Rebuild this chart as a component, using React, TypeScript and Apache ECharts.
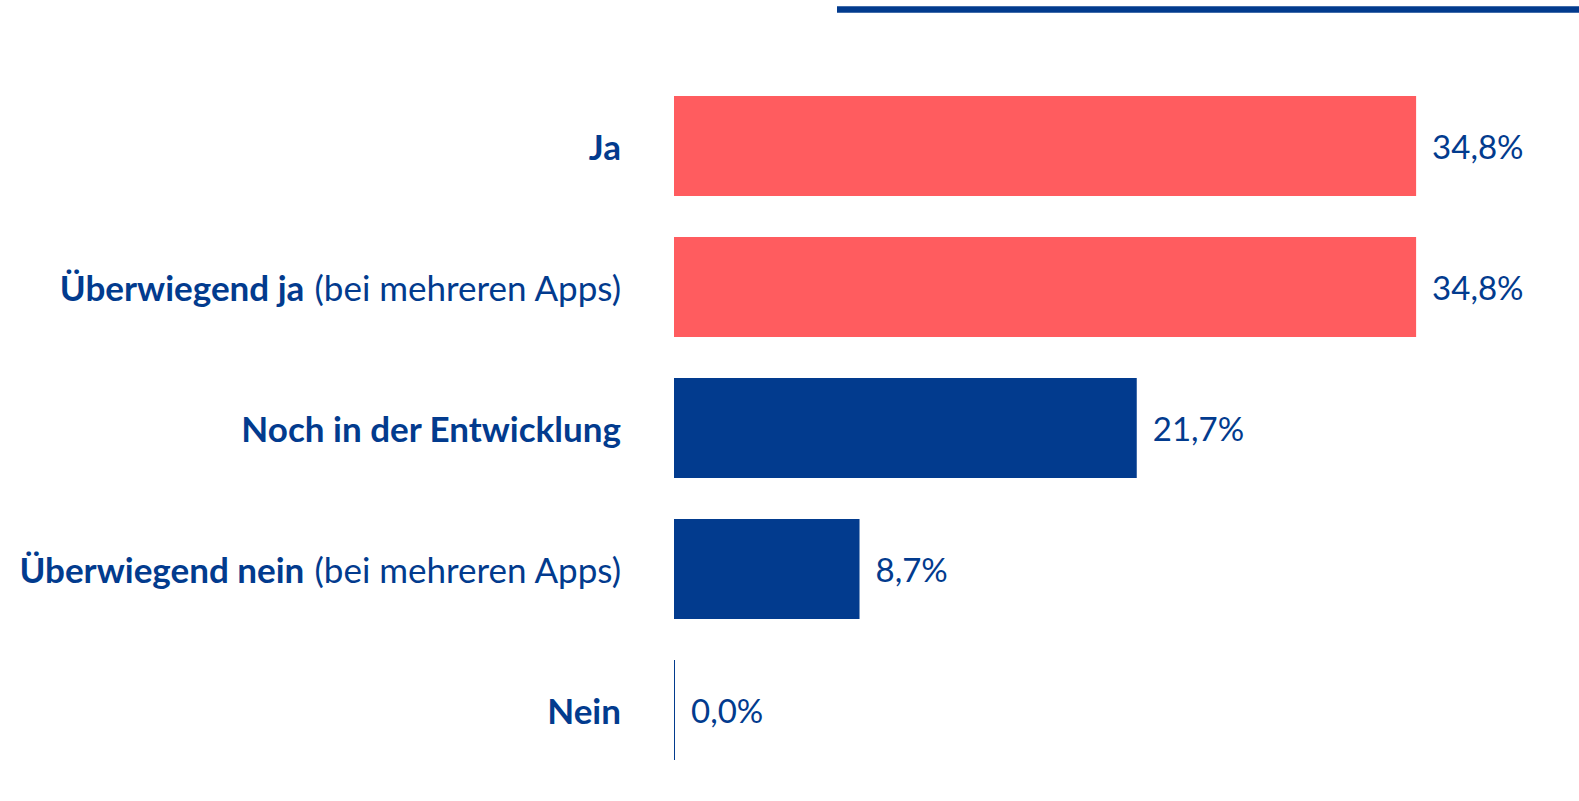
import React, { useEffect, useRef } from "react";
import * as echarts from "echarts";

const categories = [
  "Ja",
  "Überwiegend ja (bei mehreren Apps)",
  "Noch in der Entwicklung",
  "Überwiegend nein (bei mehreren Apps)",
  "Nein",
];
const values = [34.8, 34.8, 21.7, 8.7, 0.0];

const BLUE = "#023B8E";
const RED = "#FF5C5F";
const FONT = "Lato, 'Open Sans', sans-serif";

export default function App() {
  const ref = useRef<HTMLDivElement>(null);
  useEffect(() => {
    document.body.style.margin = "0";
    const chart = echarts.init(ref.current!, null, { renderer: "svg" });
    chart.setOption({
      animation: false,
      backgroundColor: "#ffffff",
      grid: { left: 674, top: 75.5, width: 853, height: 705, containLabel: false },
      xAxis: { type: "value", min: 0, max: 40, show: false },
      yAxis: {
        type: "category",
        inverse: true,
        data: categories,
        axisLine: { show: false },
        axisTick: { show: false },
        axisLabel: {
          margin: 53,
          formatter: (v: string) => {
            const i = v.indexOf(" (");
            if (i < 0) return `{b|${v}}`;
            return `{b|${v.slice(0, i)}}{n|${v.slice(i)}}`;
          },
          rich: {
            b: { fontFamily: FONT, fontSize: 35, fontWeight: "bold", color: BLUE },
            n: { fontFamily: FONT, fontSize: 35, fontWeight: "normal", color: BLUE },
          },
        },
      },
      series: [
        {
          type: "bar",
          data: values,
          barCategoryGap: "29%",
          barMinHeight: 1,
          itemStyle: {
            color: (p: any) => (p.dataIndex < 2 ? RED : BLUE),
          },
          label: {
            show: true,
            position: "right",
            distance: 16,
            fontFamily: FONT,
            fontSize: 33,
            color: BLUE,
            formatter: (p: any) => p.value.toFixed(1).replace(".", ",") + "%",
          },
        },
      ],
      graphic: [
        {
          type: "line",
          shape: { x1: 837, y1: 9.5, x2: 1579, y2: 9.5 },
          style: { stroke: BLUE, lineWidth: 6.5 },
        },
      ],
    });
    return () => chart.dispose();
  }, []);
  return <div ref={ref} style={{ width: 1579, height: 801 }} />;
}
